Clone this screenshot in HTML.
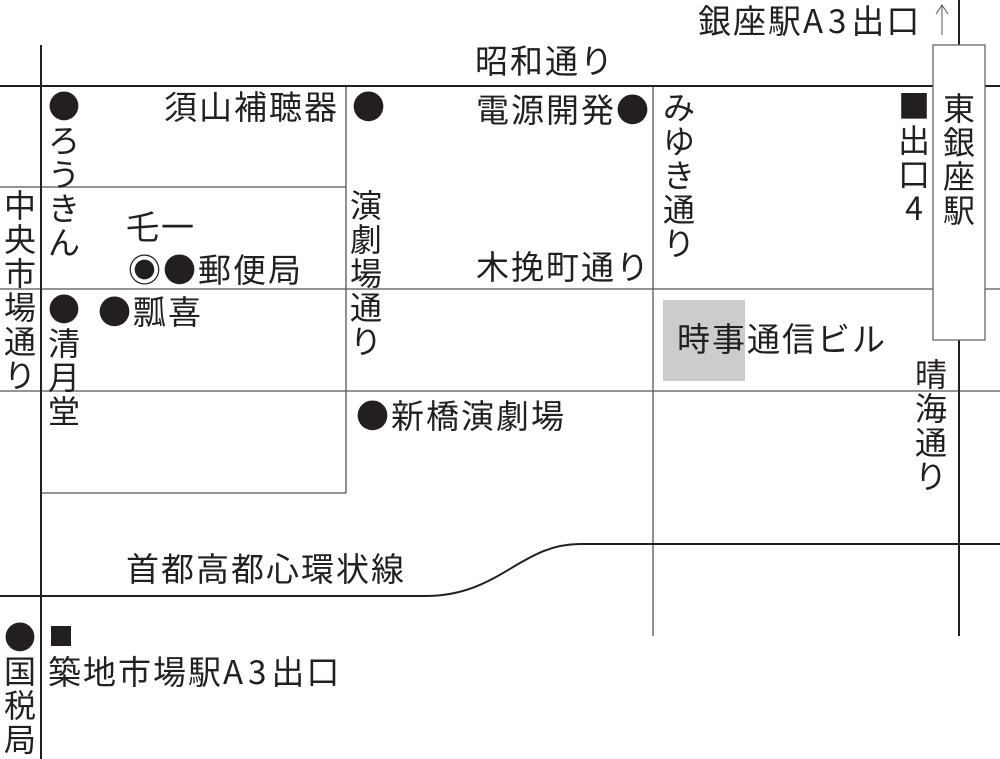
<!DOCTYPE html>
<html><head><meta charset="utf-8"><style>
body{margin:0;background:#fff}
#c{position:relative;width:1000px;height:759px;overflow:hidden;background:#fff;font-family:"Liberation Sans","Noto Sans CJK JP",sans-serif;color:#231f20}
.t{position:absolute;font-size:33px;line-height:34px;white-space:nowrap;letter-spacing:2px}
.v{position:absolute;font-size:32px;line-height:34px;width:34px;text-align:center}
.j{font-family:"Noto Sans CJK JP",sans-serif}
.a{font-family:"Noto Sans CJK JP",sans-serif;letter-spacing:5px}
svg{position:absolute;left:0;top:0}
</style></head><body><div id="c">
<svg width="1000" height="759">
<g stroke="#555" stroke-width="1.3" fill="none">
<line x1="0" y1="187" x2="346" y2="187"/>
<line x1="0" y1="289" x2="1000" y2="289"/>
<line x1="0" y1="391" x2="1000" y2="391"/>
<line x1="41" y1="493" x2="346" y2="493"/>
<line x1="346" y1="86" x2="346" y2="493"/>
<line x1="653" y1="86" x2="653" y2="636"/>
<line x1="942" y1="5" x2="942" y2="35" stroke-width="1"/>
<polyline points="936,14 942,5 948,14" stroke-width="1"/>
</g>
<g stroke="#231f20" stroke-width="2" fill="none">
<line x1="0" y1="86" x2="1000" y2="86"/>
<line x1="41" y1="45" x2="41" y2="759"/>
<line x1="959" y1="0" x2="959" y2="636"/>
<path d="M0 596 H425 C500 596 520 544 580 544 H1000"/>
</g>
<rect x="933" y="45" width="52" height="295" fill="#fff" stroke="#666" stroke-width="1.3"/>
<rect x="663" y="300" width="82" height="81" fill="#cbcccc"/>
</svg>
<div class="t" style="left:698px;top:2px">銀座駅<span class="a">A3</span>出口</div>
<div class="t" style="left:475px;top:45px">昭和通り</div>
<div class="v" style="left:47px;top:88px"><span class="j">●</span><br>ろ<br>う<br>き<br>ん</div>
<div class="t" style="left:164px;top:91px">須山補聴器</div>
<div class="t j" style="left:352px;top:88px">●</div>
<div class="t" style="left:476px;top:91px">電源開発<span class="j">●</span></div>
<div class="v" style="left:662px;top:91px">み<br>ゆ<br>き<br>通<br>り</div>
<div class="v j" style="left:897px;top:88px">■<br>出<br>口<br>4</div>
<div class="v" style="left:942px;top:92px">東<br>銀<br>座<br>駅</div>
<div class="v" style="left:3px;top:189px">中<br>央<br>市<br>場<br>通<br>り</div>
<div class="v" style="left:349px;top:189px">演<br>劇<br>場<br>通<br>り</div>
<div class="t" style="left:126px;top:211px">乇一</div>
<div class="t" style="left:128px;top:251px"><span class="j">◉●</span>郵便局</div>
<div class="t" style="left:476px;top:251px">木挽町通り</div>
<div class="v" style="left:47px;top:291px"><span class="j">●</span><br>清<br>月<br>堂</div>
<div class="t" style="left:98px;top:293px"><span class="j">●</span>瓢喜</div>
<div class="t" style="left:677px;top:323px">時事通信ビル</div>
<div class="v" style="left:914px;top:358px">晴<br>海<br>通<br>り</div>
<div class="t" style="left:356px;top:397px"><span class="j">●</span>新橋演劇場</div>
<div class="t" style="left:126px;top:553px">首都高都心環状線</div>
<div class="v" style="left:3px;top:619px"><span class="j">●</span><br>国<br>税<br>局</div>
<div style="position:absolute;left:51px;top:626px;width:20px;height:20px;background:#231f20"></div>
<div class="t" style="left:48px;top:653px">築地市場駅<span class="a">A3</span>出口</div>
</div></body></html>
